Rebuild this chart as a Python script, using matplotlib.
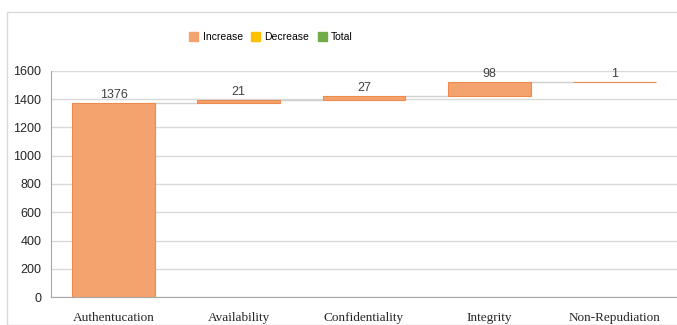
import numpy as np
import matplotlib.pyplot as plt
from matplotlib.patches import Patch, Rectangle

# waterfall data
categories = ["Authentucation", "Availability", "Confidentiality", "Integrity", "Non-Repudiation"]
increases = [1376, 21, 27, 98, 1]

orange = "#F4A36E"
edge = "#EE8A4C"
sans = ["Liberation Sans Narrow", "Liberation Sans"]

base = np.concatenate([[0], np.cumsum(increases)[:-1]])
tops = base + np.array(increases)
x = np.arange(len(categories))
width = 0.66

fig = plt.figure(figsize=(6.77, 3.25), dpi=100)
fig.patches.append(Rectangle((7/677, 0), 1, 1 - 12/325, transform=fig.transFigure,
                             fill=False, edgecolor="#D9D9D9", linewidth=1))
ax = fig.add_axes([51/677, 28/325, 626/677, 226/325])

ax.bar(x, increases, width, bottom=base, color=orange, edgecolor=edge, linewidth=0.8, zorder=3)

# connector lines
for i in range(len(x) - 1):
    ax.plot([x[i] + width/2, x[i+1] - width/2], [tops[i], tops[i]],
            color="#D0D0D0", linewidth=1, zorder=2)

for xi, t, v in zip(x, tops, increases):
    ax.text(xi, t + 12, str(v), ha="center", va="bottom", fontsize=9,
            family=sans, color="#404040")

ax.set_xlim(-0.5, len(x) - 0.5)
ax.set_ylim(0, 1600)
ax.set_yticks(range(0, 1601, 200))
ax.grid(axis="y", color="#D9D9D9", linewidth=1, zorder=0)
ax.set_xticks(x)
ax.set_xticklabels(categories, family="Liberation Serif", fontsize=9.5, color="#262626")
for lbl in ax.get_yticklabels():
    lbl.set_family(sans)
    lbl.set_fontsize(9)
    lbl.set_color("#262626")
ax.tick_params(axis="both", length=0)
ax.tick_params(axis="x", pad=11)
ax.tick_params(axis="y", pad=7)
for s in ["top", "right"]:
    ax.spines[s].set_visible(False)
ax.spines["left"].set_color("#A6A6A6")
ax.spines["bottom"].set_color("#A6A6A6")

handles = [Patch(color=orange, label="Increase"),
           Patch(color="#FFC000", label="Decrease"),
           Patch(color="#70AD47", label="Total")]
fig.legend(handles=handles, loc="center", bbox_to_anchor=(271/677, 1 - 37/325), ncol=3,
           frameon=False, prop={"family": sans, "size": 7.5},
           handlelength=0.9, handleheight=0.9, handletextpad=0.4, columnspacing=0.8)

fig.savefig("out.png", dpi=100)
